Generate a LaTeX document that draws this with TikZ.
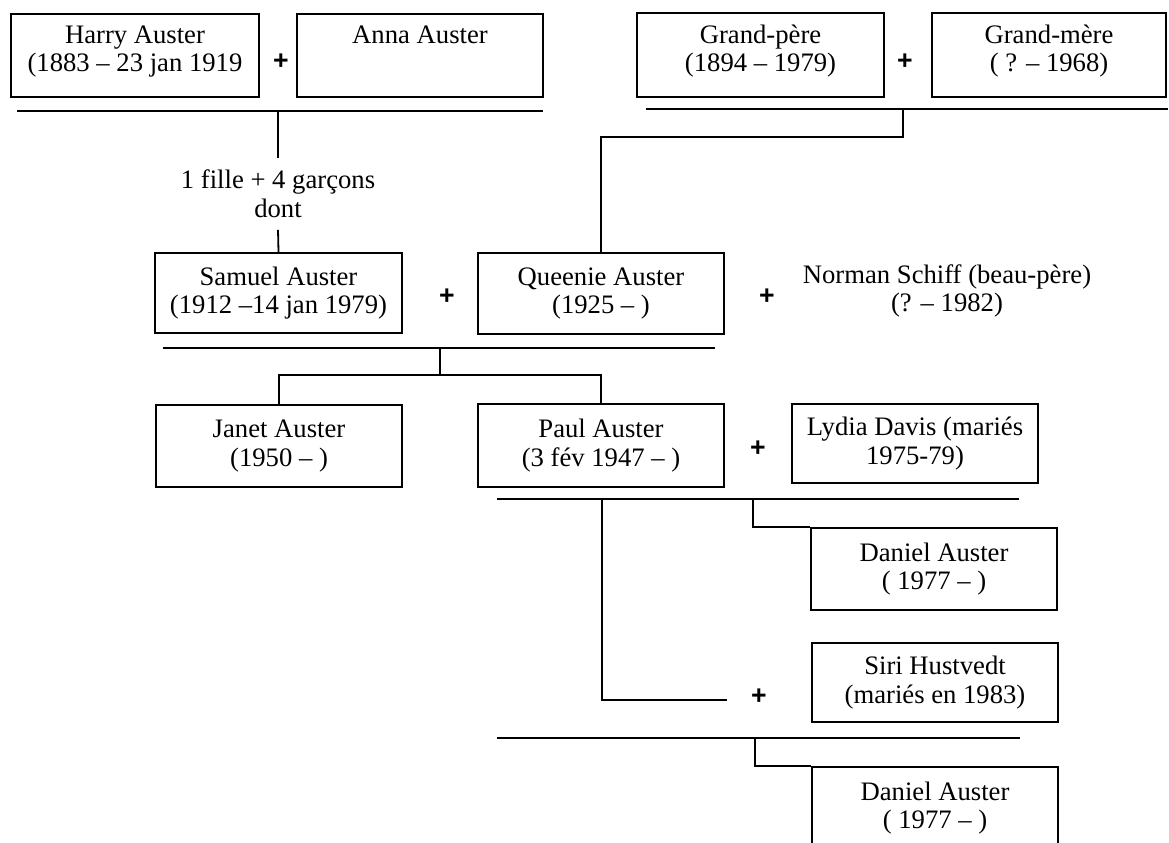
\documentclass[tikz,border=0pt]{standalone}
\usepackage{fontspec}
\setmainfont{Liberation Serif}
\newfontfamily\plusfont{Liberation Sans}
\newcommand{\lowpad}{\rule[-10pt]{0pt}{0pt}}
\begin{document}
\begin{tikzpicture}[x=0.75pt,y=-0.75pt,
  person/.style={draw, line width=1.5pt, minimum width=185pt, minimum height=61.5pt,
    align=center, inner sep=0pt, font=\fontsize{20}{21.5}\selectfont},
  plus/.style={inner sep=0pt, font=\plusfont\bfseries\fontsize{20}{21.5}\selectfont},
  lbl/.style={align=center, inner sep=0pt, font=\fontsize{20}{21.5}\selectfont},
  link/.style={line width=1.35pt}]
\useasboundingbox (0,0) rectangle (1169,842);
\clip (0,0) rectangle (1169,842);

% ---- row 1
\node[person, minimum width=186pt, minimum height=62.25pt] (harry) at (135,55.5) {Harry Auster\\(1883 – 23 jan 1919\lowpad};
\node[plus] (p1) at (281,62) {+};
\node[person, minimum width=184.5pt, minimum height=62.25pt] (anna) at (420,55.5) {Anna Auster\\\lowpad};
\node[person, minimum width=185.25pt, minimum height=63pt] (gp) at (760.5,55) {Grand-père\\(1894 – 1979)\lowpad};
\node[plus] (p2) at (905,62) {+};
\node[person, minimum width=175.5pt, minimum height=63pt] (gm) at (1049,55) {Grand-mère\\( ? – 1968)\lowpad};

\coordinate (hlA) at (17,111);
\coordinate (hlB) at (543,111);
\coordinate (hlM) at (278,111);
\draw[link] (hlA) -- (hlB);
\node[lbl, minimum height=53.25pt] (kids) at (278,194) {1 fille + 4 garçons\\dont};

\coordinate (glA) at (646,109);
\coordinate (glB) at (1168,109);
\coordinate (glM) at (903,109);
\coordinate (glK) at (903,137);
\draw[link] (glA) -- (glB);

% ---- row 2
\node[person, minimum height=60pt] (samuel) at (278.5,293) {Samuel Auster\\(1912 –14 jan 1979)};
\node[plus] (p3) at (447,297) {+};
\node[person, minimum height=60.75pt] (queenie) at (601,293.5) {Queenie Auster\\(1925 – )};
\node[plus] (p4) at (767,297) {+};
\node[lbl] (norman) at (947,291) {Norman Schiff (beau-père)\\(? – 1982)};

\draw[link] (hlM) -- (kids.north);
\draw[link] (kids.south) -- (samuel.north);
\draw[link] (glM) -- (glK) -| (queenie.north);

\coordinate (slA) at (163,348);
\coordinate (slB) at (715,348);
\coordinate (slM) at (440,348);
\coordinate (slK) at (440,375);
\draw[link] (slA) -- (slB);
\draw[link] (slM) -- (slK);

% ---- row 3
\node[person, minimum height=61.5pt] (janet) at (279,446) {Janet Auster\\(1950 – )};
\node[person, minimum height=62.25pt] (paul) at (601,445.5) {Paul Auster\\(3 fév 1947 – )};
\node[plus] (p5) at (758,449) {+};
\node[person, minimum width=184.5pt, minimum height=59.25pt] (lydia) at (915,443.5) {Lydia Davis (mariés\\1975-79)};

\draw[link] (janet.north) |- (slK) -| (paul.north);

\coordinate (plA) at (497,499);
\coordinate (plB) at (1019,499);
\coordinate (plD) at (753,499);
\coordinate (plS) at (602,499);
\draw[link] (plA) -- (plB);

\node[person, minimum width=184.5pt, minimum height=61.5pt] (daniel) at (934,569) {Daniel Auster\\( 1977 – )};
\draw[link] (plD) |- (daniel.north west);

\node[person, minimum height=59.25pt] (siri) at (935,682.5) {Siri Hustvedt\\(mariés en 1983)};
\node[plus] (p6) at (759,697) {+};
\coordinate (sE) at (727,700);
\draw[link] (plS) |- (sE);

\coordinate (llA) at (497,738);
\coordinate (llB) at (1020,738);
\coordinate (llM) at (755,738);
\draw[link] (llA) -- (llB);

\node[person, minimum height=61.5pt] (daniel2) at (935,808) {Daniel Auster\\( 1977 – )};
\draw[link] (llM) |- (daniel2.north west);
\end{tikzpicture}
\end{document}
